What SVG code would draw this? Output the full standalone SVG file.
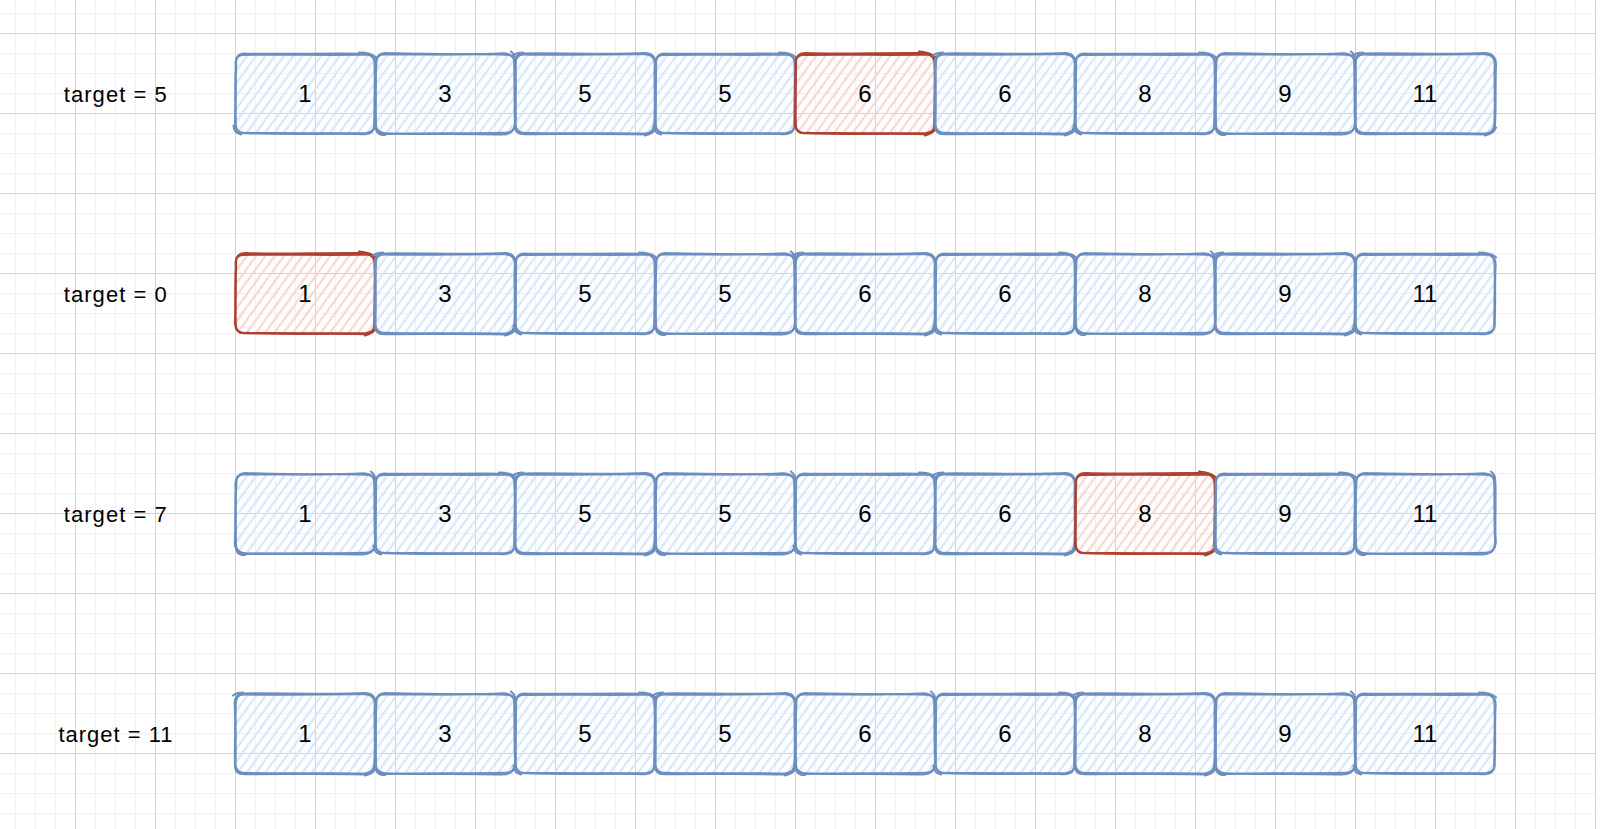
<svg xmlns="http://www.w3.org/2000/svg" xmlns:xlink="http://www.w3.org/1999/xlink" width="1603" height="829" viewBox="0 0 1603 829">
<style>
.ob{fill:none;stroke:#6c8ebf;stroke-width:2.1;stroke-linecap:round;stroke-linejoin:round}
.or{fill:none;stroke:#ae4132;stroke-width:2.1;stroke-linecap:round;stroke-linejoin:round}
.v{font-family:"Liberation Sans",Arial,sans-serif;font-size:24px;fill:#000;text-anchor:middle}
.lbl{font-family:"Liberation Sans",Arial,sans-serif;font-size:22px;fill:#000}
</style>
<defs>
<pattern id="grid" x="-5" y="-47" width="80" height="80" patternUnits="userSpaceOnUse">
<path d="M20.5,0V80M40.5,0V80M60.5,0V80M0,20.5H80M0,40.5H80M0,60.5H80" stroke="#f1f1f1" stroke-width="1" fill="none"/>
<path d="M0.5,0V80M0,0.5H80" stroke="#d3d3d3" stroke-width="1" fill="none"/>
</pattern>
<pattern id="hB" width="7.5" height="40" patternUnits="userSpaceOnUse" patternTransform="rotate(36)">
<line x1="3.5" y1="-1" x2="3.5" y2="41" stroke="#d5e5fc" stroke-width="2"/>
<line x1="4.3" y1="6" x2="4.1" y2="30" stroke="#dae8fc" stroke-width="1.2"/>
</pattern>
<pattern id="hR" width="7.5" height="40" patternUnits="userSpaceOnUse" patternTransform="rotate(36)">
<line x1="3.5" y1="-1" x2="3.5" y2="41" stroke="#f9d3ce" stroke-width="2"/>
<line x1="4.3" y1="6" x2="4.1" y2="30" stroke="#fad9d5" stroke-width="1.2"/>
</pattern>
<g id="bA">
<rect x="1" y="1" width="138" height="79" rx="8" fill="url(#hB)"/>
<path class="ob" d="M8,1.5 C40,0.5 98,2 132,1 Q139,1.5 139.5,9 C140.5,30 138.8,55 139.6,71 Q139.8,79 131,79.6 C98,80.6 42,78.8 9,79.8 Q1,79.8 0.8,71 C-0.2,50 1.4,28 0.6,9 Q0.8,1.8 8,1.5"/>
<path class="ob" d="M11,0 C46,1.2 94,-0.6 128,0.2 Q140.6,0.8 140.6,11 C139.4,33 141,54 139.4,69 Q140.8,81 128,80.6 C94,79.6 44,81.4 12,79.4 Q-0.4,80.6 0,68 C1.2,48 -0.6,30 1.2,12 Q-0.4,-0.8 11,0"/>
<path class="ob" d="M124,-1 Q136,-1 141,4 M-1.5,72 Q-1,80 6,81"/>
</g>
<g id="bB">
<rect x="1" y="1" width="138" height="79" rx="8" fill="url(#hB)"/>
<path class="ob" d="M9,0.6 C44,1.8 96,0 130,1.2 Q140,0.6 139.2,10 C139.8,32 139.2,52 140.2,70 Q139.4,80.2 130,79.2 C96,80.2 46,79.2 10,80.4 Q0.4,79.4 1,70 C0.2,48 1.2,30 0.4,10 Q1,1 9,0.6"/>
<path class="ob" d="M12,-0.4 C48,0.6 92,1.6 129,-0.2 Q141,1 140.4,12 C141,34 139.6,56 140.8,68 Q139.8,81 127,81 C92,80 48,81 13,80 Q-0.6,79.6 -0.2,69 C1,52 -0.4,30 1.4,11 Q0.4,-1 12,-0.4"/>
<path class="ob" d="M136,-2 Q141,2 140,8 M1,75 Q2,82 10,81.5"/>
</g>
<g id="bC">
<rect x="1" y="1" width="138" height="79" rx="8" fill="url(#hB)"/>
<path class="ob" d="M10,1 C42,2 100,0.4 130,0.8 Q139.6,1.4 139.8,10 C139,30 140.6,50 139.4,70 Q139.6,79.4 130,80 C100,79 40,80.6 10,79.4 Q0.6,80 0.4,70 C1.2,52 -0.2,28 0.8,10 Q0.4,0.6 10,1"/>
<path class="ob" d="M8,0 C40,-0.6 96,1.4 131,-0.4 Q140.4,0.4 141,10 C140,36 141.2,52 140,70 Q140.6,80.8 131,81 C96,80 40,80.8 10,80.6 Q-0.8,81 0,71 C-0.6,48 1.4,32 -0.4,10 Q0,0 8,0"/>
<path class="ob" d="M-2,2 Q2,-1 8,-1 M130,82 Q139,80 141,74"/>
</g>
<g id="bR">
<rect x="1" y="1" width="138" height="79" rx="8" fill="url(#hR)"/>
<path class="or" d="M8,1.5 C40,0.5 98,2 132,1 Q139,1.5 139.5,9 C140.5,30 138.8,55 139.6,71 Q139.8,79 131,79.6 C98,80.6 42,78.8 9,79.8 Q1,79.8 0.8,71 C-0.2,50 1.4,28 0.6,9 Q0.8,1.8 8,1.5"/>
<path class="or" d="M11,-0.5 C46,0.8 94,-1 128,-0.4 Q140.6,0.8 140.6,11 C139.4,33 141,54 139.4,69 Q140.8,81 128,80.6 C94,79.6 44,81.4 12,79.4 Q-0.4,80.6 0,68 C1.2,48 -0.6,30 1.2,12 Q-0.4,-0.8 11,-0.5"/>
<path class="or" d="M124,-2 Q136,-1 141,4 M130,82 Q139,80 141,74"/>
</g>
</defs>
<rect x="0" y="0" width="1603" height="829" fill="#ffffff"/>
<rect x="0" y="0" width="1596" height="829" fill="url(#grid)"/>

<g id="labels">
<text id="label-row1" class="lbl" x="63.8" y="101.7" textLength="103" lengthAdjust="spacing">target = 5</text>
<text id="label-row2" class="lbl" x="63.8" y="301.7" textLength="103" lengthAdjust="spacing">target = 0</text>
<text id="label-row3" class="lbl" x="63.8" y="521.7" textLength="103" lengthAdjust="spacing">target = 7</text>
<text id="label-row4" class="lbl" x="58.5" y="741.7" textLength="114" lengthAdjust="spacing">target = 11</text>
</g>

<g id="row1">
<g id="r1-0" transform="translate(235,53.5)"><use href="#bA"/><text class="v" x="70" y="48.2">1</text></g>
<g id="r1-1" transform="translate(375,53.5)"><use href="#bB"/><text class="v" x="70" y="48.2">3</text></g>
<g id="r1-2" transform="translate(515,53.5)"><use href="#bC"/><text class="v" x="70" y="48.2">5</text></g>
<g id="r1-3" transform="translate(655,53.5)"><use href="#bA"/><text class="v" x="70" y="48.2">5</text></g>
<g id="r1-4" transform="translate(795,53.5)"><use href="#bR"/><text class="v" x="70" y="48.2">6</text></g>
<g id="r1-5" transform="translate(935,53.5)"><use href="#bC"/><text class="v" x="70" y="48.2">6</text></g>
<g id="r1-6" transform="translate(1075,53.5)"><use href="#bA"/><text class="v" x="70" y="48.2">8</text></g>
<g id="r1-7" transform="translate(1215,53.5)"><use href="#bB"/><text class="v" x="70" y="48.2">9</text></g>
<g id="r1-8" transform="translate(1355,53.5)"><use href="#bC"/><text class="v" x="70" y="48.2">11</text></g>
</g>

<g id="row2">
<g id="r2-0" transform="translate(235,253.5)"><use href="#bR"/><text class="v" x="70" y="48.2">1</text></g>
<g id="r2-1" transform="translate(375,253.5)"><use href="#bC"/><text class="v" x="70" y="48.2">3</text></g>
<g id="r2-2" transform="translate(515,253.5)"><use href="#bA"/><text class="v" x="70" y="48.2">5</text></g>
<g id="r2-3" transform="translate(655,253.5)"><use href="#bB"/><text class="v" x="70" y="48.2">5</text></g>
<g id="r2-4" transform="translate(795,253.5)"><use href="#bC"/><text class="v" x="70" y="48.2">6</text></g>
<g id="r2-5" transform="translate(935,253.5)"><use href="#bA"/><text class="v" x="70" y="48.2">6</text></g>
<g id="r2-6" transform="translate(1075,253.5)"><use href="#bB"/><text class="v" x="70" y="48.2">8</text></g>
<g id="r2-7" transform="translate(1215,253.5)"><use href="#bC"/><text class="v" x="70" y="48.2">9</text></g>
<g id="r2-8" transform="translate(1355,253.5)"><use href="#bA"/><text class="v" x="70" y="48.2">11</text></g>
</g>

<g id="row3">
<g id="r3-0" transform="translate(235,473.5)"><use href="#bB"/><text class="v" x="70" y="48.2">1</text></g>
<g id="r3-1" transform="translate(375,473.5)"><use href="#bA"/><text class="v" x="70" y="48.2">3</text></g>
<g id="r3-2" transform="translate(515,473.5)"><use href="#bC"/><text class="v" x="70" y="48.2">5</text></g>
<g id="r3-3" transform="translate(655,473.5)"><use href="#bB"/><text class="v" x="70" y="48.2">5</text></g>
<g id="r3-4" transform="translate(795,473.5)"><use href="#bA"/><text class="v" x="70" y="48.2">6</text></g>
<g id="r3-5" transform="translate(935,473.5)"><use href="#bC"/><text class="v" x="70" y="48.2">6</text></g>
<g id="r3-6" transform="translate(1075,473.5)"><use href="#bR"/><text class="v" x="70" y="48.2">8</text></g>
<g id="r3-7" transform="translate(1215,473.5)"><use href="#bA"/><text class="v" x="70" y="48.2">9</text></g>
<g id="r3-8" transform="translate(1355,473.5)"><use href="#bB"/><text class="v" x="70" y="48.2">11</text></g>
</g>

<g id="row4">
<g id="r4-0" transform="translate(235,693.5)"><use href="#bC"/><text class="v" x="70" y="48.2">1</text></g>
<g id="r4-1" transform="translate(375,693.5)"><use href="#bB"/><text class="v" x="70" y="48.2">3</text></g>
<g id="r4-2" transform="translate(515,693.5)"><use href="#bA"/><text class="v" x="70" y="48.2">5</text></g>
<g id="r4-3" transform="translate(655,693.5)"><use href="#bC"/><text class="v" x="70" y="48.2">5</text></g>
<g id="r4-4" transform="translate(795,693.5)"><use href="#bB"/><text class="v" x="70" y="48.2">6</text></g>
<g id="r4-5" transform="translate(935,693.5)"><use href="#bA"/><text class="v" x="70" y="48.2">6</text></g>
<g id="r4-6" transform="translate(1075,693.5)"><use href="#bC"/><text class="v" x="70" y="48.2">8</text></g>
<g id="r4-7" transform="translate(1215,693.5)"><use href="#bB"/><text class="v" x="70" y="48.2">9</text></g>
<g id="r4-8" transform="translate(1355,693.5)"><use href="#bA"/><text class="v" x="70" y="48.2">11</text></g>
</g>
</svg>
